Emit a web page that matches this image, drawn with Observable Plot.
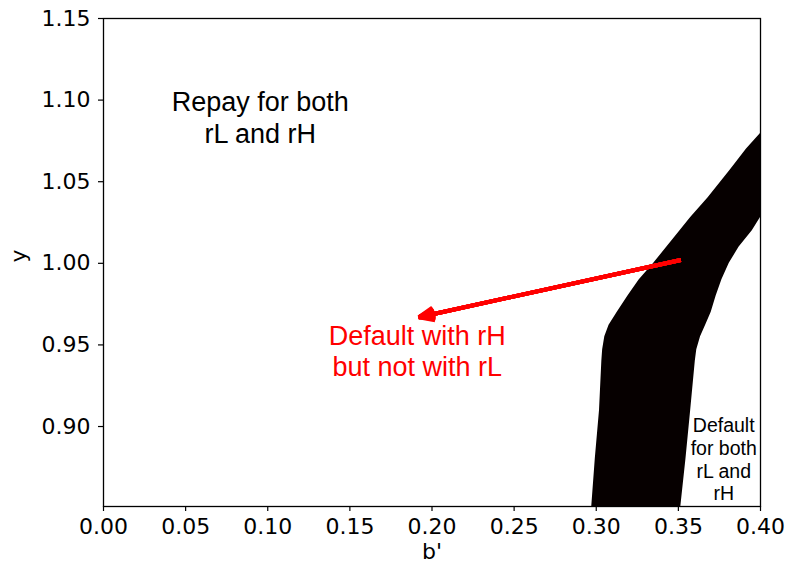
<!DOCTYPE html>
<html>
<head>
<meta charset="utf-8">
<script src="https://cdn.jsdelivr.net/npm/d3@7"></script>
<script src="https://cdn.jsdelivr.net/npm/@observablehq/plot@0.6"></script>
<style>
  html, body { margin: 0; padding: 0; background: #fff; }
</style>
</head>
<body>
<div id="chart"></div>
<script>
// Band boundaries (default region for both rL and rH), sampled along y
const bandY     = [0.850, 0.880, 0.910, 0.940, 0.947, 0.955, 0.962, 0.970, 0.980, 0.990, 1.000, 1.010, 1.020, 1.028, 1.040, 1.057, 1.070, 1.0795];
const bandLeft  = [0.2972, 0.2994, 0.3020, 0.3034, 0.3039, 0.3052, 0.3078, 0.3128, 0.3193, 0.3262, 0.3350, 0.3430, 0.3510, 0.3575, 0.3680, 0.3815, 0.3915, 0.4000];
const bandRight = [0.3514, 0.3546, 0.3575, 0.3603, 0.3612, 0.3635, 0.3666, 0.3700, 0.3730, 0.3765, 0.3810, 0.3870, 0.3950, 0.4000, 0.4000, 0.4000, 0.4000, 0.4000];

// Tick values
const xTicks = [0.00, 0.05, 0.10, 0.15, 0.20, 0.25, 0.30, 0.35, 0.40];
const yTicks = [0.90, 0.95, 1.00, 1.05, 1.10, 1.15];

// Arrow (from band to red annotation)
const arrowFrom = [0.3515, 1.002];
const arrowTo   = [0.192, 0.967];

// Annotations
const labels = [
  {x: 0.0954, y: 1.090, text: "Repay for both\nrL and rH", color: "black", size: 27, lh: 1.18},
  {x: 0.1910, y: 0.9467, text: "Default with rH\nbut not with rL", color: "red", size: 27, lh: 1.18},
  {x: 0.3776, y: 0.880, text: "Default\nfor both\nrL and\nrH", color: "black", size: 19.5, lh: 1.16}
];

const band = bandY.map((y, i) => ({y, x1: bandLeft[i], x2: bandRight[i]}));
const arrows = [{x1: arrowFrom[0], y1: arrowFrom[1], x2: arrowTo[0], y2: arrowTo[1]}];

// Overlapping wings give a filled arrowhead
const headAngles = [2, 11, 20, 29, 38, 46];

const chart = Plot.plot({
  width: 788,
  height: 569,
  marginLeft: 103,
  marginRight: 28,
  marginTop: 18,
  marginBottom: 63,
  style: {fontFamily: "DejaVu Sans", background: "white", color: "black"},
  x: {domain: [0, 0.40]},
  y: {domain: [0.851, 1.15]},
  marks: [
    Plot.areaX(band, {y: "y", x1: "x1", x2: "x2", fill: "#060000", clip: true}),
    ...headAngles.map(a => Plot.arrow(arrows, {
      x1: "x1", y1: "y1", x2: "x2", y2: "y2", stroke: "red", strokeWidth: 4,
      headLength: 6.2, headAngle: a, strokeLinecap: "butt", strokeLinejoin: "miter"
    })),
    ...labels.map(d => Plot.text([d], {
      x: "x", y: "y", text: "text", fill: d.color, fontSize: d.size, lineHeight: d.lh,
      fontFamily: "Liberation Sans", textAnchor: "middle"
    })),
    Plot.frame({stroke: "black", strokeWidth: 1.3}),
    Plot.axisX({ticks: xTicks, tickFormat: d3.format(".2f"), tickSize: 5, tickPadding: 7, fontSize: 22, label: null, strokeWidth: 1.2}),
    Plot.axisY({ticks: yTicks, tickFormat: d3.format(".2f"), tickSize: 5, tickPadding: 8, fontSize: 22, label: null, strokeWidth: 1.2}),
    Plot.text(["b'"], {frameAnchor: "bottom", dy: 52, fontSize: 22, fill: "black"}),
    Plot.text(["y"], {frameAnchor: "left", dx: -85, rotate: -90, fontSize: 22, fill: "black"})
  ]
});

document.getElementById("chart").appendChild(chart);
</script>
</body>
</html>
